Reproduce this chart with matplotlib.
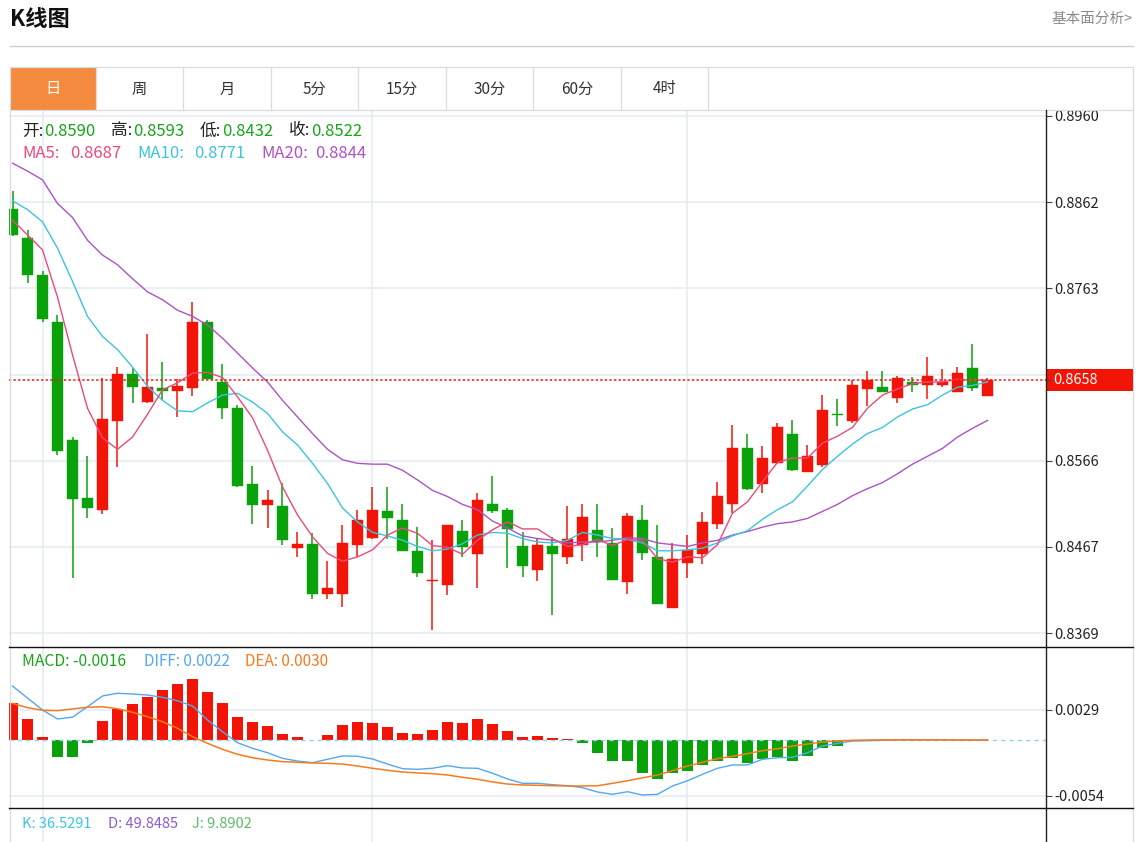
import matplotlib
matplotlib.use('Agg')
import matplotlib.pyplot as plt
from matplotlib.lines import Line2D
from matplotlib.patches import Rectangle

plt.rcParams['font.family'] = ['Noto Sans CJK SC', 'DejaVu Sans']

# ---------------- data ----------------
open_ = [0.8854, 0.8821, 0.8778, 0.8724, 0.8590, 0.8523, 0.8510, 0.8611, 0.8665, 0.8633,
         0.8649, 0.8646, 0.8649, 0.8725, 0.8656, 0.8626, 0.8539, 0.8515, 0.8514, 0.8466,
         0.8471, 0.8414, 0.8414, 0.8470, 0.8478, 0.8508, 0.8498, 0.8463, 0.8428, 0.8424,
         0.8486, 0.8459, 0.8517, 0.8510, 0.8469, 0.8441, 0.8469, 0.8456, 0.8470, 0.8487,
         0.8472, 0.8427, 0.8498, 0.8456, 0.8398, 0.8449, 0.8459, 0.8494, 0.8517, 0.8580,
         0.8539, 0.8563, 0.8596, 0.8553, 0.8561, 0.8619, 0.8611, 0.8648, 0.8650, 0.8638,
         0.8656, 0.8653, 0.8652, 0.8645, 0.8672, 0.8640]
high = [0.8874, 0.8830, 0.8783, 0.8733, 0.8593, 0.8571, 0.8661, 0.8673, 0.8672, 0.8711,
        0.8679, 0.8659, 0.8747, 0.8727, 0.8677, 0.8630, 0.8560, 0.8533, 0.8540, 0.8485,
        0.8483, 0.8451, 0.8492, 0.8510, 0.8536, 0.8536, 0.8517, 0.8490, 0.8475, 0.8493,
        0.8498, 0.8529, 0.8548, 0.8512, 0.8485, 0.8476, 0.8479, 0.8514, 0.8516, 0.8517,
        0.8489, 0.8506, 0.8515, 0.8492, 0.8472, 0.8481, 0.8507, 0.8542, 0.8607, 0.8597,
        0.8583, 0.8609, 0.8612, 0.8584, 0.8641, 0.8636, 0.8658, 0.8669, 0.8669, 0.8663,
        0.8662, 0.8685, 0.8671, 0.8673, 0.8699, 0.8661]
low = [0.8823, 0.8769, 0.8725, 0.8572, 0.8432, 0.8500, 0.8505, 0.8559, 0.8632, 0.8632,
       0.8635, 0.8616, 0.8640, 0.8659, 0.8614, 0.8536, 0.8494, 0.8489, 0.8470, 0.8456,
       0.8408, 0.8408, 0.8399, 0.8456, 0.8476, 0.8477, 0.8463, 0.8433, 0.8372, 0.8412,
       0.8456, 0.8421, 0.8506, 0.8443, 0.8433, 0.8429, 0.8390, 0.8448, 0.8451, 0.8456,
       0.8430, 0.8414, 0.8452, 0.8402, 0.8398, 0.8432, 0.8448, 0.8488, 0.8506, 0.8532,
       0.8529, 0.8562, 0.8554, 0.8553, 0.8559, 0.8606, 0.8609, 0.8629, 0.8645, 0.8632,
       0.8645, 0.8637, 0.8650, 0.8645, 0.8646, 0.8640]
close = [0.8824, 0.8778, 0.8728, 0.8577, 0.8522, 0.8512, 0.8614, 0.8665, 0.8650, 0.8650,
         0.8646, 0.8651, 0.8725, 0.8659, 0.8626, 0.8537, 0.8515, 0.8521, 0.8475, 0.8471,
         0.8414, 0.8420, 0.8472, 0.8498, 0.8510, 0.8501, 0.8463, 0.8438, 0.8430, 0.8492,
         0.8467, 0.8521, 0.8509, 0.8488, 0.8446, 0.8470, 0.8459, 0.8476, 0.8502, 0.8473,
         0.8430, 0.8503, 0.8460, 0.8402, 0.8454, 0.8464, 0.8496, 0.8526, 0.8580, 0.8534,
         0.8569, 0.8605, 0.8555, 0.8571, 0.8624, 0.8618, 0.8653, 0.8658, 0.8645, 0.8660,
         0.8653, 0.8663, 0.8656, 0.8666, 0.8649, 0.8658]

ma5 = [0.8841, 0.8824, 0.8807, 0.8753, 0.8687, 0.8626, 0.8592, 0.8579, 0.8593, 0.8619,
       0.8647, 0.8655, 0.8666, 0.8667, 0.8661, 0.8639, 0.8615, 0.8578, 0.8536, 0.8504,
       0.8479, 0.8460, 0.8451, 0.8456, 0.8464, 0.8481, 0.8489, 0.8483, 0.8469, 0.8467,
       0.8459, 0.8475, 0.8487, 0.8496, 0.8488, 0.8488, 0.8477, 0.8468, 0.8470, 0.8476,
       0.8469, 0.8476, 0.8475, 0.8454, 0.8450, 0.8456, 0.8455, 0.8470, 0.8506, 0.8519,
       0.8542, 0.8564, 0.8569, 0.8569, 0.8586, 0.8594, 0.8604, 0.8626, 0.8641, 0.8648,
       0.8654, 0.8656, 0.8656, 0.8659, 0.8658, 0.8658]
ma10 = [0.8863, 0.8853, 0.8839, 0.8809, 0.8771, 0.8731, 0.8708, 0.8693, 0.8673, 0.8651,
        0.8635, 0.8623, 0.8622, 0.8632, 0.8641, 0.8643, 0.8633, 0.8620, 0.8599, 0.8584,
        0.8563, 0.8540, 0.8512, 0.8496, 0.8484, 0.8480, 0.8475, 0.8468, 0.8463, 0.8465,
        0.8471, 0.8481, 0.8484, 0.8483, 0.8477, 0.8473, 0.8472, 0.8475, 0.8484, 0.8481,
        0.8477, 0.8476, 0.8472, 0.8463, 0.8463, 0.8464, 0.8466, 0.8472, 0.8480, 0.8486,
        0.8499, 0.8510, 0.8519, 0.8537, 0.8556, 0.8571, 0.8585, 0.8597, 0.8604, 0.8616,
        0.8625, 0.8630, 0.8641, 0.8650, 0.8652, 0.8656]
ma20 = [0.8906, 0.8897, 0.8887, 0.8860, 0.8844, 0.8818, 0.8801, 0.8790, 0.8774, 0.8759,
        0.8750, 0.8738, 0.8731, 0.8721, 0.8706, 0.8689, 0.8672, 0.8656, 0.8635, 0.8616,
        0.8597, 0.8579, 0.8567, 0.8563, 0.8562, 0.8562, 0.8555, 0.8544, 0.8532, 0.8525,
        0.8516, 0.8510, 0.8497, 0.8489, 0.8480, 0.8477, 0.8475, 0.8472, 0.8473, 0.8473,
        0.8475, 0.8478, 0.8477, 0.8472, 0.8470, 0.8468, 0.8472, 0.8475, 0.8481, 0.8485,
        0.8490, 0.8494, 0.8496, 0.8500, 0.8508, 0.8516, 0.8526, 0.8534, 0.8541, 0.8551,
        0.8562, 0.8571, 0.8580, 0.8593, 0.8603, 0.8612]

macd = [0.00360, 0.00203, 0.00026, -0.00167, -0.00161, -0.00026, 0.00186, 0.00302, 0.00350, 0.00418,
        0.00480, 0.00543, 0.00592, 0.00466, 0.00354, 0.00219, 0.00174, 0.00135, 0.00061, 0.00026,
        -0.00002, 0.00053, 0.00142, 0.00174, 0.00167, 0.00123, 0.00065, 0.00055, 0.00094, 0.00171,
        0.00167, 0.00206, 0.00152, 0.00087, 0.00029, 0.00039, 0.00016, 0.00007, -0.00032, -0.00128,
        -0.00200, -0.00200, -0.00316, -0.00376, -0.00316, -0.00296, -0.00244, -0.00200, -0.00171, -0.00219,
        -0.00183, -0.00167, -0.00206, -0.00152, -0.00074, -0.00055, -0.00003, -0.00002, 0.0, 0.0,
        0.0, 0.0, 0.0, 0.0, 0.0, 0.0]
diff = [0.00521, 0.00405, 0.00290, 0.00203, 0.00220, 0.00321, 0.00425, 0.00451, 0.00444, 0.00434,
        0.00412, 0.00379, 0.00328, 0.00193, 0.00080, -0.00026, -0.00080, -0.00123, -0.00177, -0.00203,
        -0.00219, -0.00186, -0.00154, -0.00157, -0.00183, -0.00232, -0.00277, -0.00283, -0.00273, -0.00248,
        -0.00270, -0.00273, -0.00321, -0.00376, -0.00418, -0.00418, -0.00431, -0.00441, -0.00460, -0.00502,
        -0.00524, -0.00499, -0.00531, -0.00524, -0.00444, -0.00393, -0.00331, -0.00273, -0.00241, -0.00241,
        -0.00186, -0.00171, -0.00167, -0.00123, -0.00058, -0.00032, -0.00010, -0.00007, -0.00003, 0.00001,
        0.00002, 0.00002, 0.00002, 0.00001, -0.00001, 0.0]
dea = [0.00354, 0.00312, 0.00287, 0.00283, 0.00300, 0.00316, 0.00321, 0.00302, 0.00267, 0.00225,
       0.00177, 0.00113, 0.00032, -0.00032, -0.00090, -0.00138, -0.00171, -0.00193, -0.00209, -0.00215,
       -0.00222, -0.00225, -0.00232, -0.00251, -0.00273, -0.00292, -0.00309, -0.00318, -0.00325, -0.00338,
       -0.00360, -0.00379, -0.00405, -0.00425, -0.00434, -0.00437, -0.00441, -0.00444, -0.00444, -0.00441,
       -0.00418, -0.00393, -0.00365, -0.00338, -0.00296, -0.00251, -0.00215, -0.00180, -0.00157, -0.00132,
       -0.00103, -0.00084, -0.00058, -0.00039, -0.00019, -0.00010, -0.00003, 0.0, 0.00001, 0.00001,
       0.00001, 0.00001, 0.00001, 0.0, 0.0, 0.0]

kdj_names = ['K', 'D', 'J']
kdj_values = [36.5291, 49.8485, 9.8902]

tabs = ['日', '周', '月', '5分', '15分', '30分', '60分', '4时']
price_ticks = [0.8369, 0.84675, 0.8566, 0.86645, 0.8763, 0.88615, 0.8960]
price_tick_labels = ['0.8369', '0.8467', '0.8566', '0.8664', '0.8763', '0.8862', '0.8960']
macd_ticks = [-0.0054, 0.0029]
macd_tick_labels = ['-0.0054', '0.0029']
month_starts = [2, 24, 45]
hover = 4

# ---------------- style ----------------
RED = '#F21507'
GREEN = '#0AA20A'
C_MA5 = '#EC4A7C'
C_MA10 = '#3CC4DE'
C_MA20 = '#AE52C6'
C_DIFF = '#52A8F2'
C_DEA = '#F77A1C'
GRID = '#E4EBF2'
BORDER = '#DCDCDC'

W, H = 1138, 842
fig = plt.figure(figsize=(W / 100, H / 100), dpi=100)
fig.patch.set_facecolor('white')


def fx(x):
    return x / W


def fy(y):
    return 1 - y / H


def fline(xs, ys, color, lw=1.0, z=5, **kw):
    fig.add_artist(Line2D([fx(v) for v in xs], [fy(v) for v in ys],
                          transform=fig.transFigure, color=color, lw=lw, zorder=z, **kw))


def axes_px(x0, y0, x1, y1):
    a = fig.add_axes([fx(x0), fy(y1), (x1 - x0) / W, (y1 - y0) / H])
    a.set_facecolor('none')
    for s in a.spines.values():
        s.set_visible(False)
    return a


def ftext(x, y, s, color, size, **kw):
    fig.text(fx(x), fy(y), s, color=color, fontsize=size, va='center', ha='left', **kw)


# ---------------- header ----------------
ftext(10, 20, 'K线图', '#111111', 16, fontweight='bold')
fig.text(fx(1133), fy(19), '基本面分析>', color='#8A8A8A', fontsize=10.5, va='center', ha='right')
fline([10, 1133], [46, 46], '#CFCFCF', lw=1.0)

# tab bar
tab_edges = [10, 96, 183, 271, 358, 446, 533, 621, 708]
fig.add_artist(Rectangle((fx(10), fy(110)), (96 - 10) / W, (110 - 67) / H,
                         transform=fig.transFigure, facecolor='#F48B3E', edgecolor='none', zorder=2))
fline([10, 1133], [67, 67], BORDER, lw=0.9)
fline([10, 1133], [110, 110], BORDER, lw=0.9)
for e in tab_edges[1:]:
    fline([e, e], [67, 110], BORDER, lw=0.9)
for k, t in enumerate(tabs):
    cx = (tab_edges[k] + tab_edges[k + 1]) / 2
    fig.text(fx(cx), fy(89), t, color='white' if k == 0 else '#333333', fontsize=11,
             ha='center', va='center', zorder=6)

# outer borders
fline([9.5, 9.5], [67, 842], BORDER, lw=0.9)
fline([1133, 1133], [67, 842], BORDER, lw=0.9)

# ---------------- price pane ----------------
xs = list(range(len(close)))
XL = ((9 - 12.5) / 15, (1046 - 12.5) / 15)

ax = axes_px(9, 110, 1046, 647)
ax.set_xlim(*XL)
ax.set_ylim(0.8960 - (647 - 116) / 8748, 0.8960 + 6 / 8748)
for t in price_ticks:
    ax.axhline(t, color=GRID, lw=1.1, zorder=0)
for m in month_starts:
    ax.axvline(m, color=GRID, lw=1.1, zorder=0)

up = [c >= o for o, c in zip(open_, close)]
cols = [RED if u else GREEN for u in up]
ax.vlines(xs, low, high, colors=cols, lw=1.1, zorder=2)
bottoms = [min(o, c) for o, c in zip(open_, close)]
heights = [max(abs(c - o), 0.00015) for o, c in zip(open_, close)]
ax.bar(xs, heights, bottom=bottoms, width=0.74, color=cols, edgecolor=cols, lw=0.3, zorder=3)

ax.plot(xs, ma20, color=C_MA20, lw=1.0, zorder=4)
ax.plot(xs, ma10, color=C_MA10, lw=1.0, zorder=4)
ax.plot(xs, ma5, color=C_MA5, lw=1.0, zorder=4)
ax.axhline(close[-1], color=RED, lw=1.1, ls=(0, (1.5, 1.5)), zorder=5)

ax.set_xticks([])
ax.yaxis.tick_right()
shown = [i for i, l in enumerate(price_tick_labels) if l != '0.8664']
ax.set_yticks([price_ticks[i] for i in shown])
ax.set_yticklabels([price_tick_labels[i] for i in shown])
ax.tick_params(axis='y', length=4, width=0.8, color='#444444', labelsize=10.5,
               labelcolor='#222222', pad=2)

# current price label
fig.add_artist(Rectangle((fx(1047), fy(391)), (1133 - 1047) / W, (391 - 369) / H,
                         transform=fig.transFigure, facecolor=RED, edgecolor='none', zorder=6))
fig.text(fx(1053), fy(380), f'{close[-1]:.4f}', color='white', fontsize=10.5,
         va='center', ha='left', zorder=7)
fline([1046, 1050], [380, 380], '#444444', lw=0.8, z=8)

# info lines
ohlc_names = ['开', '高', '低', '收']
ohlc_vals = [open_[hover], high[hover], low[hover], close[hover]]
name_x = [22, 111, 200, 289]
for nx, nm, v in zip(name_x, ohlc_names, ohlc_vals):
    ftext(nx, 131, nm + ':', '#222222', 12)
    ftext(nx + 22, 131, f'{v:.4f}', '#16A616', 12)
ma_info = [('MA5:', ma5[hover], C_MA5, 22, 70),
           ('MA10:', ma10[hover], C_MA10, 137, 194),
           ('MA20:', ma20[hover], C_MA20, 261, 315)]
for nm, v, c, nx, vx in ma_info:
    ftext(nx, 154, nm, c, 12)
    ftext(vx, 154, f'{v:.4f}', c, 12)

# ---------------- MACD pane ----------------
ax2 = axes_px(9, 647, 1046, 808)
ax2.set_xlim(*XL)
ax2.set_ylim(-68 / 10361, 93 / 10361)
for t in macd_ticks:
    ax2.axhline(t, color=GRID, lw=1.1, zorder=0)
for m in month_starts:
    ax2.axvline(m, color=GRID, lw=1.1, zorder=0)
mcols = [RED if v >= 0 else GREEN for v in macd]
ax2.bar(xs, macd, width=0.74, color=mcols, lw=0, zorder=2)
ax2.axhline(0, color='#8FD2F0', lw=1.0, ls=(0, (3, 3)), zorder=3)
ax2.plot(xs, diff, color=C_DIFF, lw=1.0, zorder=4)
ax2.plot(xs, dea, color=C_DEA, lw=1.1, zorder=4)
ax2.set_xticks([])
ax2.yaxis.tick_right()
ax2.set_yticks(macd_ticks)
ax2.set_yticklabels(macd_tick_labels)
ax2.tick_params(axis='y', length=4, width=0.8, color='#444444', labelsize=10.5,
                labelcolor='#222222', pad=2)

ftext(22, 661, f'MACD: {macd[hover]:.4f}', '#16A616', 11.3)
ftext(144, 661, f'DIFF: {diff[hover]:.4f}', C_DIFF, 11)
ftext(245, 661, f'DEA: {dea[hover]:.4f}', C_DEA, 11)

# ---------------- KDJ pane ----------------
ax3 = axes_px(9, 808, 1046, 842)
ax3.set_xlim(*XL)
ax3.set_ylim(0, 1)
for m in month_starts:
    ax3.axvline(m, color=GRID, lw=1.1, zorder=0)
ax3.set_xticks([])
ax3.set_yticks([])
kdj_cols = ['#3CC6DA', '#8B5CC9', '#5CBD66']
kdj_x = [22, 108, 192]
for nm, v, c, kx in zip(kdj_names, kdj_values, kdj_cols, kdj_x):
    ftext(kx, 824, f'{nm}: {v:.4f}', c, 10.5)

# pane separators and right axis line
fline([9, 1133], [647, 647], '#111111', lw=1.0, z=8)
fline([9, 1133], [808, 808], '#111111', lw=1.0, z=8)
fline([1046, 1046], [110, 842], '#222222', lw=1.0, z=8)

fig.savefig('out.png', dpi=100, facecolor='white')
